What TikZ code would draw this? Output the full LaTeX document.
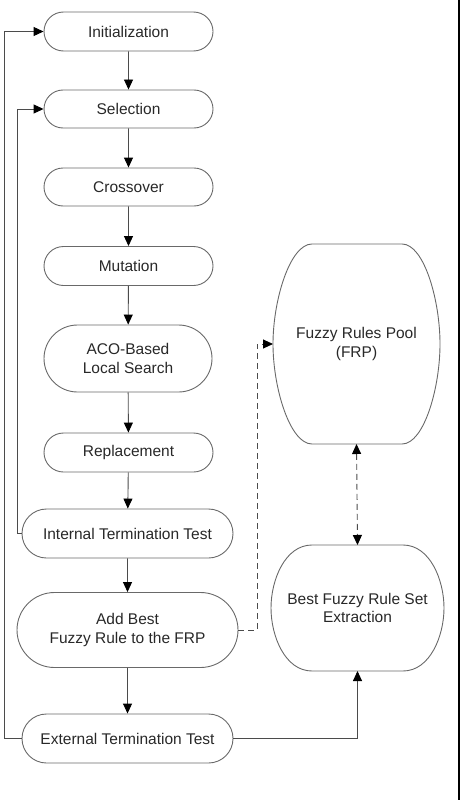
\documentclass[tikz,border=0pt]{standalone}
\usepackage{fontspec}
\setmainfont{Liberation Sans}
\usetikzlibrary{shapes.misc,arrows.meta}
\definecolor{txt}{RGB}{40,40,40}
\definecolor{edge}{RGB}{105,105,105}
\definecolor{conn}{RGB}{75,75,75}
\tikzset{
  stadium/.style={rounded rectangle, draw=edge, line width=0.9pt, inner sep=0pt,
    text=txt, font=\fontsize{15.5}{18.5}\selectfont, align=center},
  label/.style={text=txt, font=\fontsize{15.5}{18.5}\selectfont, align=center, inner sep=0pt},
  barrel/.style={draw=edge, line width=0.9pt},
  tip/.tip={Triangle[length=10pt,width=9pt,color=black]},
  flow/.style={draw=conn, line width=0.9pt, -tip},
  dflow/.style={flow, dash pattern=on 6pt off 4pt},
}
\begin{document}
\begin{tikzpicture}[x=1pt,y=-1pt]
\useasboundingbox (0,0) rectangle (460,800);
\fill[black] (458,0) rectangle (460,800);

\node[stadium, minimum width=169pt, minimum height=39pt] (init) at (128.5,31.5) {Initialization};
\node[stadium, minimum width=169pt, minimum height=38pt] (sel) at (128.5,109) {Selection};
\node[stadium, minimum width=169pt, minimum height=38pt] (cross) at (128.5,187) {Crossover};
\node[stadium, minimum width=169pt, minimum height=39pt] (mut) at (128.5,266) {Mutation};
\node[stadium, minimum width=168pt, minimum height=67pt] (aco) at (128,358.5) {ACO-Based\\Local Search};
\node[stadium, minimum width=169pt, minimum height=39pt] (rep) at (128.5,452.5) {Replacement};
\node[stadium, minimum width=211pt, minimum height=49pt] (itt) at (127.5,533.5) {Internal Termination Test};
\node[stadium, minimum width=221pt, minimum height=75pt] (add) at (127.5,630) {Add Best\\Fuzzy Rule to the FRP};
\node[stadium, minimum width=211pt, minimum height=49pt] (ett) at (127.5,738.5) {External Termination Test};

% Fuzzy Rules Pool (barrel)
\draw[barrel] (312,244) -- (402,244)
  .. controls (424,244) and (440,300) .. (440,344)
  .. controls (440,388) and (424,444) .. (402,444)
  -- (312,444)
  .. controls (290,444) and (273,388) .. (273,344)
  .. controls (273,300) and (290,244) .. (312,244) -- cycle;
\node[label] (frp) at (356.5,344) {Fuzzy Rules Pool\\(FRP)};
\coordinate (frpW) at (273,344);
\coordinate (frpS) at (356.5,444);

% Best Fuzzy Rule Set Extraction (barrel)
\draw[barrel] (312,545) -- (403,545)
  .. controls (430,545) and (444,580) .. (444,608)
  .. controls (444,636) and (430,671) .. (403,671)
  -- (312,671)
  .. controls (285,671) and (271,636) .. (271,608)
  .. controls (271,580) and (285,545) .. (312,545) -- cycle;
\node[label] (best) at (357.5,608) {Best Fuzzy Rule Set\\Extraction};
\coordinate (bestN) at (357.5,545);
\coordinate (bestS) at (357.5,671);

% main flow
\draw[flow] (init) -- (sel);
\draw[flow] (sel) -- (cross);
\draw[flow] (cross) -- (mut);
\draw[flow] (mut) -- (aco);
\draw[flow] (aco) -- (rep);
\draw[flow] (rep) -- (itt);
\draw[flow] (itt) -- (add);
\draw[flow] (add) -- (ett);

% loops
\coordinate (outer) at (4,0);
\coordinate (inner) at (17,0);
\draw[flow] (ett.west) -- (ett.west -| outer) -- (init.west -| outer) -- (init.west);
\draw[flow] (itt.west) -- (itt.west -| inner) -- (sel.west -| inner) -- (sel.west);

% right side
\coordinate (dx) at (257,0);
\draw[dflow] (add.east) -- (add.east -| dx) -- (frpW -| dx) -- (frpW);
\draw[dflow, tip-tip] (frpS) -- (bestN);
\draw[flow] (ett.east) -| (bestS);
\end{tikzpicture}
\end{document}
